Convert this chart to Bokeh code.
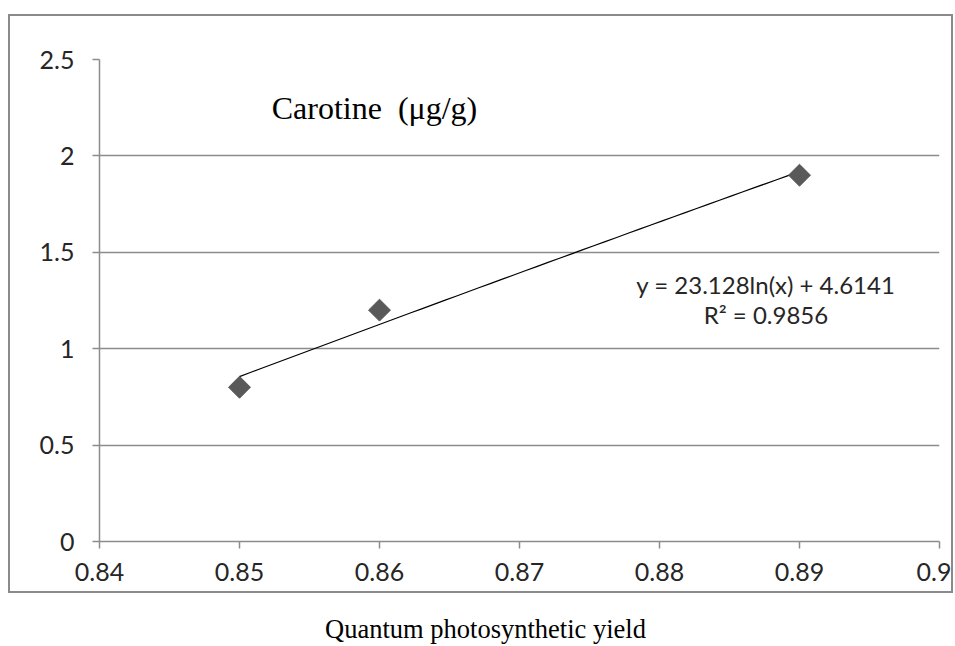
import numpy as np
from bokeh.plotting import figure
from bokeh.models import FixedTicker, Label, Div
from bokeh.layouts import column
from bokeh.embed import file_html
from bokeh.resources import INLINE

# ---- data ----
yield_x = [0.85, 0.86, 0.89]
carotine_y = [0.8, 1.2, 1.9]
fit_a = 23.128
fit_b = 4.6141
fit_r2 = 0.9856
x_ticks = [0.84, 0.85, 0.86, 0.87, 0.88, 0.89, 0.90]
x_tick_labels = ["0.84", "0.85", "0.86", "0.87", "0.88", "0.89", "0.9"]
y_ticks = [0.0, 0.5, 1.0, 1.5, 2.0, 2.5]
y_tick_labels = ["0", "0.5", "1", "1.5", "2", "2.5"]
series_title = "Carotine \u00a0(\u03bcg/g)"
x_title = "Quantum photosynthetic yield"

GRID = "#8c8c8c"
TICK_FONT = "Lato"

p = figure(width=945, height=579, x_range=(0.84, 0.90), y_range=(0, 2.5),
           output_backend="svg", toolbar_location=None,
           min_border_left=89, min_border_top=43, min_border_right=16, min_border_bottom=54,
           styles={"border": "2px solid #8a8a8a", "box-sizing": "border-box"},
           margin=(14, 0, 0, 8))
p.outline_line_color = None
p.background_fill_color = "white"
p.border_fill_color = "white"

# axes
p.xaxis.ticker = FixedTicker(ticks=x_ticks)
p.xaxis.major_label_overrides = {t: l for t, l in zip(x_ticks, x_tick_labels)}
p.yaxis.ticker = FixedTicker(ticks=y_ticks)
p.yaxis.major_label_overrides = {t: l for t, l in zip(y_ticks, y_tick_labels)}
for ax in (p.xaxis[0], p.yaxis[0]):
    ax.axis_line_color = GRID
    ax.axis_line_width = 1.5
    ax.major_tick_line_color = GRID
    ax.major_tick_line_width = 1.5
    ax.major_tick_out = 7
    ax.major_tick_in = 0
    ax.minor_tick_line_color = None
    ax.major_label_text_font = TICK_FONT
    ax.major_label_text_font_size = "25px"
    ax.major_label_text_color = "#262626"
p.xaxis.major_label_standoff = 14
p.yaxis.major_label_standoff = 18

p.xgrid.grid_line_color = None
p.ygrid.grid_line_color = GRID
p.ygrid.grid_line_width = 1.5

# trendline from the stated logarithmic fit
fit_x = np.linspace(min(yield_x), max(yield_x), 50)
fit_y = fit_a * np.log(fit_x) + fit_b
p.line(fit_x, fit_y, line_color="black", line_width=1.2)

# data points (diamonds)
p.scatter(yield_x, carotine_y, marker="square", angle=np.pi / 4, size=15.5,
          fill_color="#595959", line_color="#595959")

# labels
p.add_layout(Label(x=0.8523, y=2.25, text=series_title,
                   text_font="Liberation Serif", text_font_size="32px",
                   text_color="black", text_baseline="alphabetic"))
p.add_layout(Label(x=0.8876, y=1.333,
                   text=f"y = {fit_a}ln(x) + {fit_b}",
                   text_font=TICK_FONT, text_font_size="24px", text_color="#262626",
                   text_align="center", text_baseline="middle"))
p.add_layout(Label(x=0.8876, y=1.178,
                   text=f"R\u00b2 = {fit_r2}",
                   text_font=TICK_FONT, text_font_size="24px", text_color="#262626",
                   text_align="center", text_baseline="middle"))

title_div = Div(text=f'<div style="font-family:\'Liberation Serif\';font-size:26.5px;'
                     f'text-align:center;width:941px;line-height:30px;color:black">{x_title}</div>',
                width=941, height=30, margin=(21, 0, 0, 15))

layout = column(p, title_div)
open("out.html", "w").write(file_html(layout, INLINE))
